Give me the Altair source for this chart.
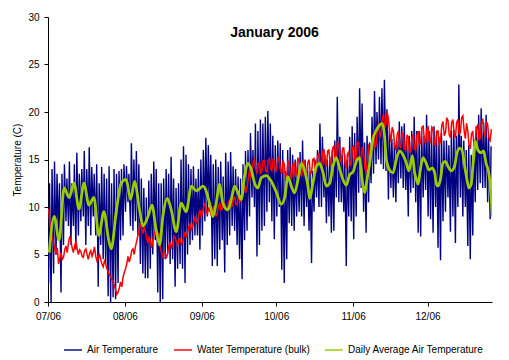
import pandas as pd
import altair as alt

# ---------------- data ----------------
title_text = "January 2006"
y_title = "Temperature (C)"
series_names = ["Air Temperature", "Water Temperature (bulk)", "Daily Average Air Temperature"]
series_colors = ["#000080", "#FF0000", "#99CC00"]
series_widths = [1.4, 1.5, 2.8]
start_date = "2006-07-01"
y_ticks = [0, 5, 10, 15, 20, 25, 30]
month_tick_months = [7, 8, 9, 10, 11, 12]

# daily maximum of the air temperature, one value per day from 1 July 2006
air_high = [
    12.5, 14.0, 14.8, 13.5, 12.5, 13.5, 14.5, 13.0, 14.8, 12.5,
    14.5, 15.7, 13.5, 14.0, 15.9, 14.0, 16.3, 14.2, 13.5, 14.5,
    12.5, 14.2, 13.5, 13.0, 14.3, 12.5, 14.0, 13.5, 13.8, 14.0,
    14.5,
    14.3, 13.5, 16.7, 15.0, 15.9, 14.5, 13.0, 12.0, 11.0, 12.8,
    13.5, 14.8, 14.0, 12.5, 12.5, 13.0, 14.0, 13.5, 15.3, 13.0,
    12.0, 12.5, 15.0, 16.4, 15.5, 14.5, 14.0, 14.3, 13.0, 14.0,
    15.0, 16.0,
    17.3, 16.5, 15.5, 14.5, 15.0, 14.2, 14.8, 13.2, 15.7, 14.8,
    15.8, 14.3, 14.0, 13.2, 13.0, 14.5, 15.9, 16.0, 17.8, 16.0,
    18.8, 18.0, 19.2, 18.8, 19.5, 20.1, 18.8, 17.5, 16.5, 17.0,
    16.7,
    16.0, 13.8, 16.0, 16.3, 15.5, 15.0, 15.0, 15.8, 17.0, 15.0,
    14.3, 13.8, 13.8, 15.0, 16.0, 18.8, 17.4, 15.5, 15.0, 15.3,
    16.0, 17.0, 21.6, 17.4, 15.5, 15.5, 15.0, 17.4, 18.5, 17.8,
    19.5, 22.5, 20.9, 16.8, 17.5, 16.8, 19.5, 22.2, 20.0, 21.6,
    22.5, 23.4, 20.3, 18.0, 17.2, 16.8, 17.0, 19.0, 18.5, 18.8,
    17.0, 17.5, 18.0, 19.5, 18.0, 18.0, 18.0, 17.5, 19.7, 18.0,
    18.0,
    18.5, 18.0, 17.4, 17.8, 17.0, 17.0, 16.5, 18.1, 18.1, 17.5,
    22.9, 17.5, 17.0, 16.0, 16.5, 15.5, 17.0, 18.5, 19.7, 20.4,
    18.9, 19.7, 17.4, 16.4,
]

# daily minimum of the air temperature
air_low = [
    2.0, 0.0, 3.0, 5.0, 7.0, 1.0, 6.0, 8.5, 8.0, 6.0,
    8.0, 5.5, 7.0, 8.5, 9.0, 6.0, 8.0, 7.0, 9.0, 7.0,
    1.6, 6.0, 4.5, 4.0, 0.6, 0.0, 0.5, 0.3, 2.0, 6.5,
    7.0,
    9.5, 10.5, 8.0, 7.5, 8.5, 7.0, 4.0, 3.0, 2.5, 2.5,
    3.5, 5.0, 6.5, 1.0, 0.0, 0.3, 4.5, 5.0, 4.0, 4.5,
    1.6, 3.5, 4.0, 3.5, 2.0, 5.0, 6.0, 6.5, 7.0, 7.0,
    5.5, 7.0,
    8.5, 9.0, 9.5, 3.8, 4.5, 3.8, 5.5, 6.5, 3.1, 6.0,
    7.0, 8.0, 7.5, 6.0, 4.5, 2.4, 6.5, 7.5, 9.0, 11.0,
    10.0, 4.8, 6.0, 7.5, 8.0, 9.5, 10.5, 8.5, 6.6, 9.0,
    10.0,
    3.4, 2.0, 4.5, 8.3, 8.0, 7.5, 9.0, 9.5, 9.0, 8.0,
    10.0, 7.5, 4.1, 9.5, 11.0, 10.0, 10.0, 11.0, 8.3, 9.0,
    7.3, 7.5, 11.0, 10.5, 10.5, 9.5, 3.8, 9.0, 8.5, 6.6,
    9.0, 11.5, 12.0, 9.5, 7.3, 10.5, 12.5, 13.5, 14.5, 15.0,
    14.5, 14.0, 13.8, 10.8, 12.0, 11.0, 10.5, 12.5, 13.0, 12.0,
    11.8, 9.0, 11.5, 12.0, 10.5, 7.3, 6.9, 11.0, 11.8, 9.0,
    8.7,
    7.3, 10.0, 5.7, 4.4, 8.5, 9.5, 11.0, 7.4, 9.0, 6.2,
    10.0, 11.0, 9.0, 10.0, 5.9, 4.5, 7.0, 10.5, 11.8, 12.5,
    12.0, 12.0, 10.5, 8.7,
]

# bulk water temperature, two readings per day (morning, evening)
water_am = [
    9.8, 7.4, 6.3, 5.0, 4.0, 5.2, 4.7, 5.9, 6.2, 6.4,
    5.2, 6.4, 5.0, 5.3, 4.7, 5.6, 4.5, 5.4, 5.2, 4.8,
    4.5, 4.5, 3.7, 4.0, 3.2, 2.7, 2.2, 1.3, 1.0, 2.1,
    2.6,
    3.5, 4.8, 4.7, 5.6, 5.8, 7.0, 8.3, 7.2, 7.4, 6.2,
    6.4, 6.5, 7.4, 6.6, 5.8, 4.8, 5.1, 5.2, 6.3, 6.2,
    6.8, 6.0, 6.7, 6.3, 7.4, 7.3, 8.2, 7.9, 8.9, 8.5,
    9.7, 9.3,
    10.4, 9.2, 9.9, 9.4, 9.7, 9.4, 10.4, 9.8, 10.4, 9.8,
    10.7, 10.1, 11.0, 10.2, 11.2, 11.1, 12.3, 12.1, 14.0, 13.7,
    15.0, 13.5, 14.7, 13.8, 14.9, 13.7, 15.1, 13.8, 14.9, 14.0,
    15.0,
    13.5, 14.5, 13.3, 14.6, 13.1, 14.6, 13.6, 15.0, 13.3, 14.8,
    13.2, 15.0, 13.6, 15.1, 13.9, 15.7, 14.2, 16.1, 14.4, 16.0,
    14.6, 16.4, 15.2, 16.6, 14.7, 16.2, 14.0, 15.8, 14.6, 16.5,
    15.2, 16.8, 14.8, 15.6, 13.6, 16.6, 15.7, 17.7, 16.6, 18.8,
    17.7, 19.8, 18.7, 19.3, 16.8, 18.0, 16.0, 18.0, 16.2, 17.6,
    16.0, 17.3, 15.8, 17.6, 16.0, 18.0, 16.8, 18.5, 16.6, 18.4,
    16.8,
    18.2, 16.4, 18.0, 17.0, 19.0, 17.8, 19.1, 17.3, 19.2, 17.3,
    19.2, 17.8, 19.6, 17.2, 18.0, 16.1, 18.0, 16.8, 18.6, 17.2,
    19.3, 17.4, 18.7, 17.0,
]
water_pm = [
    8.2, 6.6, 5.6, 5.7, 4.6, 4.5, 5.5, 5.2, 6.9, 5.7,
    5.9, 5.6, 5.5, 4.8, 5.4, 5.0, 5.1, 4.8, 5.8, 4.3,
    5.1, 4.0, 4.3, 3.5, 2.8, 2.3, 1.7, 0.8, 1.5, 1.6,
    3.1,
    4.0, 4.2, 5.4, 5.0, 6.4, 7.6, 7.7, 7.9, 6.7, 6.9,
    5.7, 7.2, 6.8, 7.3, 5.2, 5.3, 4.6, 5.9, 5.6, 6.9,
    6.3, 6.5, 6.1, 6.9, 6.8, 7.9, 7.6, 8.5, 8.3, 9.2,
    9.0, 10.0,
    9.7, 9.9, 9.2, 10.1, 9.0, 10.1, 9.7, 10.5, 9.7, 10.5,
    10.0, 10.8, 10.3, 11.0, 10.5, 11.9, 11.5, 13.0, 13.1, 14.8,
    14.0, 14.6, 13.6, 14.9, 13.8, 14.9, 14.0, 15.0, 13.8, 15.2,
    13.9,
    14.9, 13.1, 14.8, 13.2, 14.5, 13.2, 15.1, 13.5, 14.8, 13.3,
    14.7, 13.5, 15.0, 13.6, 15.4, 14.2, 15.8, 14.6, 15.9, 14.5,
    16.2, 14.9, 16.8, 15.1, 16.2, 14.6, 15.6, 14.3, 16.2, 15.0,
    16.8, 15.3, 16.3, 14.1, 15.1, 15.0, 17.3, 16.2, 18.2, 17.3,
    19.3, 18.3, 20.0, 17.8, 18.4, 16.5, 17.6, 16.5, 17.8, 16.1,
    17.6, 15.8, 17.4, 16.1, 17.6, 16.5, 18.4, 17.0, 18.2, 16.9,
    18.4,
    16.7, 18.0, 16.5, 18.6, 17.5, 19.4, 17.6, 18.9, 17.7, 18.9,
    17.7, 19.4, 18.1, 18.8, 16.5, 17.7, 16.5, 18.4, 17.1, 18.8,
    17.8, 19.0, 17.2, 18.2,
]

# daily average air temperature: (day since 1 July, value)
avg_day = [
    0, 2, 4, 6, 8, 10, 12, 14, 16, 18, 20, 22, 24, 25, 27, 29,
    31, 32.8, 34.4, 36.4, 37.8, 39.8, 41.4, 43.1, 44.5, 45.8, 47.6, 49.2, 51.2, 53.2, 55.2, 57.3, 59.3,
    62, 65.3, 66, 67.3, 68.7, 70, 72, 73.4, 74.7, 76.1, 77.4, 78.7, 80.1, 81.4, 82.8, 84.1, 85.5, 87.5, 89.5, 91.5,
    93.5, 94.9, 96.2, 97.6, 98.9, 100.3, 101.6, 102.9, 104.3, 105, 106.3, 107.7, 109, 110.4, 111.7, 113,
    114.4, 115.7, 117.1, 118.4, 119.8, 121.1, 122.5, 123.8,
    125.1, 125.8, 126.5, 127.2, 128.1, 129.2, 130.5, 131.9, 133.2, 134.3, 135.2, 135.9, 137.2, 138.6,
    139.9, 141.3, 142.6, 144, 145, 146.4, 147.3,
    148, 148.7, 149.6, 150.7, 152, 153.1, 154.4, 155.4, 156, 156.7, 157.7, 158.7, 159.8, 160.7, 162.1,
    163.4, 164.4, 165.4, 166.4, 167.5, 168.4, 169.2, 170.1, 170.8, 171.8, 172.8, 174.1, 175.1, 176.1,
    177.2, 177.7, 178.2, 178.6,
]
avg_val = [
    5.2, 9.0, 6.5, 12.0, 11.0, 12.5, 9.8, 12.5, 10.2, 11.0, 7.0, 9.5, 6.5, 5.6, 9.5, 12.5,
    12.9, 10.8, 12.7, 9.7, 8.0, 9.0, 10.2, 7.6, 6.0, 9.0, 10.9, 9.7, 7.4, 10.4, 9.5, 12.2, 11.7,
    12.2, 9.7, 9.0, 10.4, 12.4, 10.4, 9.7, 10.8, 12.2, 11.5, 10.8, 13.2, 14.6, 14.0, 12.5, 12.0, 13.1, 13.3, 12.7, 11.6,
    10.3, 11.0, 13.2, 12.2, 11.5, 12.9, 14.6, 13.9, 12.2, 10.9, 12.5, 14.3, 14.6, 13.6, 12.2, 12.5,
    14.3, 15.2, 14.0, 12.9, 12.3, 13.4, 13.7, 14.8,
    15.2, 13.6, 12.2, 11.5, 12.9, 14.6, 17.1, 18.1, 18.6, 18.8, 17.4, 15.0, 13.9, 13.6,
    15.0, 15.9, 15.5, 14.6, 13.8, 15.4, 13.6,
    12.9, 12.4, 13.9, 15.2, 14.6, 13.9, 14.1, 13.6, 12.5, 12.2, 12.9, 14.6, 14.8, 14.3, 13.8,
    14.3, 15.7, 16.2, 16.0, 14.3, 12.9, 12.0, 12.4, 14.3, 16.9, 16.0, 15.7, 15.9, 14.6,
    13.6, 12.5, 10.8, 9.0,
]

assert len(air_high) == len(air_low) == len(water_am) == len(water_pm) == 179
assert len(avg_day) == len(avg_val)

# ---------------- tables ----------------
base = pd.Timestamp(start_date)


def stamp(day, hours):
    return (base + pd.Timedelta(days=day, hours=hours)).strftime("%Y-%m-%dT%H:%M:%S")


air_rows, water_rows, avg_rows = [], [], []
for d in range(len(air_low)):
    air_rows.append({"t": stamp(d, 6), "v": air_low[d], "s": series_names[0]})
    air_rows.append({"t": stamp(d, 15), "v": air_high[d], "s": series_names[0]})
    water_rows.append({"t": stamp(d, 6), "v": water_am[d], "s": series_names[1]})
    water_rows.append({"t": stamp(d, 18), "v": water_pm[d], "s": series_names[1]})
for d, v in zip(avg_day, avg_val):
    avg_rows.append({"t": stamp(d, 12), "v": v, "s": series_names[2]})

df_air = pd.DataFrame(air_rows)
df_water = pd.DataFrame(water_rows)
df_avg = pd.DataFrame(avg_rows)
df_title = pd.DataFrame({"label": [title_text]})

FONT = "Liberation Sans"

x_scale = alt.Scale(domain=[alt.DateTime(year=2006, month=7, date=1),
                            alt.DateTime(year=2006, month=12, date=27)])
y_scale = alt.Scale(domain=[0, 30], nice=False)
x_axis = alt.Axis(values=[alt.DateTime(year=2006, month=m, date=1) for m in month_tick_months],
                  format="%m/%y", tickSize=4, labelPadding=5, labelFlush=False,
                  labelOverlap=False, grid=False)
y_axis = alt.Axis(values=y_ticks, tickSize=4, labelPadding=5, titlePadding=5, grid=False)

legend = alt.Legend(orient="none", legendX=15, legendY=323, direction="horizontal",
                    title=None, symbolType="stroke", symbolSize=324, labelFont=FONT,
                    labelFontSize=10, labelColor="black", labelOffset=4,
                    columnPadding=12, padding=0)
color_enc = alt.Color("s:N", scale=alt.Scale(domain=series_names, range=series_colors),
                      legend=legend)
width_enc = alt.StrokeWidth("s:O", sort=series_names,
                            scale=alt.Scale(domain=series_names, range=series_widths),
                            legend=legend)


def line_layer(df, sw, **kw):
    return alt.Chart(df).mark_line(clip=True, strokeWidth=sw, **kw).encode(
        x=alt.X("t:T", scale=x_scale, axis=x_axis, title=None),
        y=alt.Y("v:Q", scale=y_scale, axis=y_axis, title=y_title),
        color=color_enc,
        strokeWidth=width_enc,
    )


air = line_layer(df_air, series_widths[0])
water = line_layer(df_water, series_widths[1])
avg = line_layer(df_avg, series_widths[2], interpolate="monotone")

title = alt.Chart(df_title).mark_text(
    font=FONT, fontSize=14, fontWeight="bold", align="center", baseline="alphabetic",
    color="black"
).encode(text="label:N", x=alt.value(226.5), y=alt.value(19.7))

chart = alt.layer(air, water, avg, title).properties(
    width=444, height=285,
    padding={"left": 40, "top": 9, "right": 9, "bottom": 56},
    autosize=alt.AutoSizeParams(type="none"),
).configure_view(stroke=None).configure_axis(
    domainColor="black", tickColor="black", labelColor="black", titleColor="black",
    labelFont=FONT, titleFont=FONT, labelFontSize=10, titleFontSize=10,
    titleFontWeight="normal", domainWidth=1, tickWidth=1,
)

chart.save("out.html", embed_options={"renderer": "svg", "actions": False})
